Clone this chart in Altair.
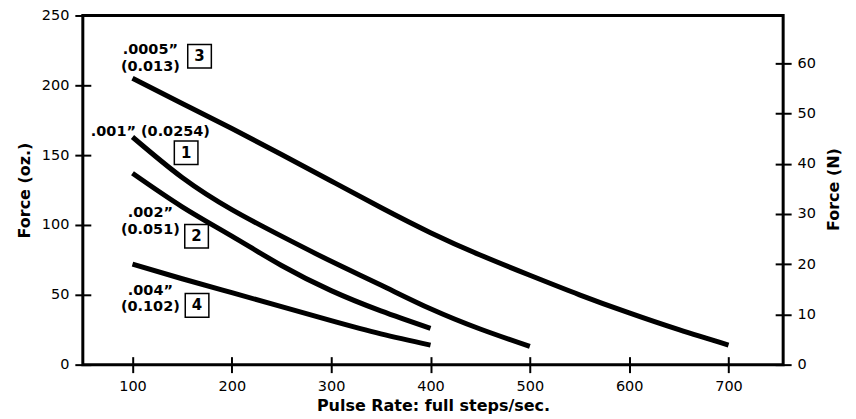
import altair as alt
import pandas as pd

# ---- data ----
pulse_3 = [100, 150, 200, 250, 300, 350, 400, 450, 500, 550, 600, 650, 700]
force_3 = [205, 187, 169, 150.5, 131.5, 112.5, 94.5, 78.5, 64, 50, 37, 25, 14]

pulse_1 = [100, 150, 200, 250, 300, 350, 400, 450, 500]
force_1 = [163, 134, 111, 92, 74, 57, 40, 25.5, 13]

pulse_2 = [100, 150, 200, 250, 300, 350, 400]
force_2 = [137, 113, 92, 71, 53, 38.5, 26]

pulse_4 = [100, 150, 200, 250, 300, 350, 400]
force_4 = [72, 61.5, 51.5, 41.5, 31.5, 22, 14]

x_ticks = [100, 200, 300, 400, 500, 600, 700]
oz_ticks = [0, 50, 100, 150, 200, 250]
n_ticks = [0, 10, 20, 30, 40, 50, 60]

label_text = [".0005\u201d", "(0.013)", ".001\u201d (0.0254)", ".002\u201d", "(0.051)", ".004\u201d", "(0.102)"]
label_x = [118, 118, 118, 118, 118, 118, 118]
label_y = [225, 213, 166.7, 108.3, 96.5, 52.7, 41.0]

box_text = ["3", "1", "2", "4"]
box_x = [167.5, 154, 164.5, 165]
box_y = [220.8, 151.7, 91.9, 42.4]

# ---- tables ----
rows = []
for name, xs, ys in [("3", pulse_3, force_3), ("1", pulse_1, force_1),
                     ("2", pulse_2, force_2), ("4", pulse_4, force_4)]:
    for xv, yv in zip(xs, ys):
        rows.append({"curve": name, "pulse": xv, "force": yv})
curves = pd.DataFrame(rows)
labels = pd.DataFrame({"text": label_text, "pulse": label_x, "force": label_y})
boxes = pd.DataFrame({"text": box_text, "pulse": box_x, "force": box_y})
ndf = pd.DataFrame({"N": n_ticks})

FONT = "DejaVu Sans"

x_enc = alt.X("pulse:Q",
              scale=alt.Scale(domain=[50, 755], nice=False, zero=False),
              axis=alt.Axis(values=x_ticks, title="Pulse Rate: full steps/sec.",
                            titlePadding=4, labelPadding=7))
y_enc = alt.Y("force:Q",
              scale=alt.Scale(domain=[0, 250], nice=False),
              axis=alt.Axis(values=oz_ticks, title="Force (oz.)",
                            titlePadding=9, labelPadding=6))

lines = alt.Chart(curves).mark_line(
    color="black", strokeWidth=5, interpolate="natural", strokeCap="butt", strokeJoin="round"
).encode(x=x_enc, y=y_enc, detail="curve:N", order="pulse:Q")

texts = alt.Chart(labels).mark_text(
    font=FONT, fontWeight="bold", fontSize=14.5, color="black", align="center", baseline="middle"
).encode(x=x_enc, y=y_enc, text="text:N")

squares = alt.Chart(boxes).mark_point(
    shape="square", filled=False, size=560, stroke="black", strokeWidth=1.5, opacity=1
).encode(x=x_enc, y=y_enc)

box_nums = alt.Chart(boxes).mark_text(
    font=FONT, fontWeight="bold", fontSize=15, color="black", align="center", baseline="middle"
).encode(x=x_enc, y=y_enc, text="text:N")

inner = alt.layer(lines, texts, squares, box_nums)

right = alt.Chart(ndf).mark_point(opacity=0).encode(
    y=alt.Y("N:Q", scale=alt.Scale(domain=[0, 69.5], nice=False),
            axis=alt.Axis(orient="right", values=n_ticks, title="Force (N)",
                          titleAngle=270, titleX=58, titleY=174,
                          titleAlign="center", titleBaseline="middle",
                          labelPadding=6))
)

chart = alt.layer(inner, right).resolve_scale(y="independent").properties(
    width=702, height=350,
    padding={"left": 75, "top": 7, "right": 65, "bottom": 52},
    autosize=alt.AutoSizeParams(type="none"),
).configure_view(
    stroke="black", strokeWidth=3
).configure_axis(
    domain=False, grid=False,
    ticks=True, tickSize=16, offset=-8, tickWidth=2, tickColor="black",
    labelFont=FONT, labelFontSize=14.5, labelColor="black",
    titleFont=FONT, titleFontSize=16, titleFontWeight="bold", titleColor="black",
)

chart.save("out.html", embed_options={"renderer": "svg", "actions": False})
